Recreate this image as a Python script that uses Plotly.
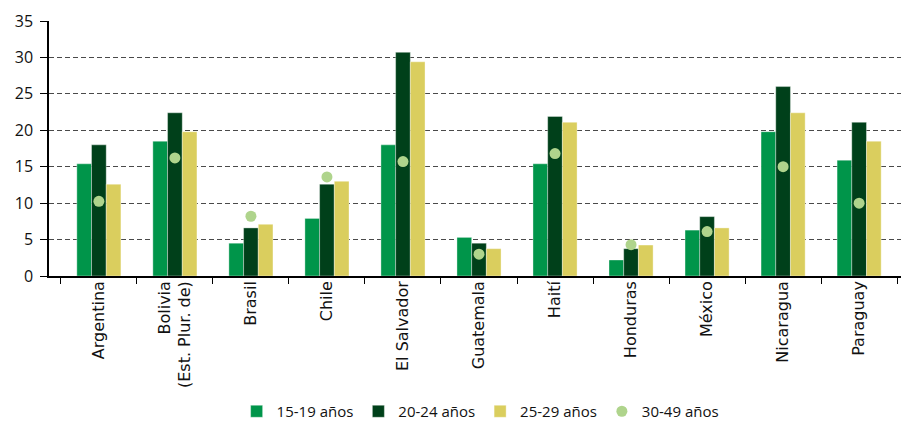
import plotly.graph_objects as go

categories = ["Argentina", "Bolivia<br>(Est. Plur. de)", "Brasil", "Chile", "El Salvador",
              "Guatemala", "Haití", "Honduras", "México", "Nicaragua", "Paraguay"]
s15_19 = [15.4, 18.5, 4.5, 7.9, 18.0, 5.3, 15.4, 2.2, 6.3, 19.8, 15.9]
s20_24 = [18.0, 22.4, 6.6, 12.6, 30.7, 4.5, 21.9, 3.75, 8.15, 26.0, 21.1]
s25_29 = [12.6, 19.8, 7.1, 13.0, 29.4, 3.75, 21.1, 4.25, 6.6, 22.4, 18.5]
s30_49 = [10.25, 16.2, 8.2, 13.6, 15.7, 3.0, 16.8, 4.3, 6.1, 15.0, 10.0]
series_names = ["15-19 años", "20-24 años", "25-29 años", "30-49 años"]
y_ticks = [0, 5, 10, 15, 20, 25, 30, 35]

c_green = "#00954A"
c_dark = "#00401A"
c_yellow = "#DACE5E"
c_dot = "#AFD48C"

fig = go.Figure()
for name, vals, col in [(series_names[0], s15_19, c_green),
                        (series_names[1], s20_24, c_dark),
                        (series_names[2], s25_29, c_yellow)]:
    fig.add_trace(go.Bar(x=categories, y=vals, name=name, marker_color=col,
                         marker_line=dict(color="rgba(255,255,255,0.6)", width=0.6)))
fig.add_trace(go.Scatter(x=categories, y=s30_49, name=series_names[3], mode="markers",
                         marker=dict(color=c_dot, size=11, symbol="circle")))

# page body has an 8px margin, so the figure is sized to fit the 909x421 window
fig.update_layout(
    width=901, height=413,
    margin=dict(l=41, r=0, t=13, b=145, autoexpand=False),
    plot_bgcolor="white", paper_bgcolor="white",
    barmode="group", bargap=0.42, bargroupgap=0,
    font=dict(family="Open Sans, Liberation Sans, sans-serif", color="#111111"),
    showlegend=True,
    legend=dict(orientation="h", xref="container", yref="container",
                x=0.524, xanchor="center", y=0.023, yanchor="middle",
                font=dict(size=15, family="Open Sans, sans-serif"),
                itemwidth=30, tracegroupgap=0, traceorder="normal"),
)
fig.update_xaxes(type="category", showline=True, linecolor="black", linewidth=1.5,
                 ticks="outside", tickson="boundaries", ticklen=6, tickcolor="black",
                 tickangle=-90, tickfont=dict(size=16, family="DejaVu Sans"), showgrid=False,
                 ticklabelstandoff=-3, automargin=False)
fig.update_yaxes(range=[0, 35], tickvals=y_ticks, showline=True, linecolor="black", linewidth=1.5,
                 ticks="outside", ticklen=7, tickcolor="black", tickfont=dict(size=16),
                 ticklabelstandoff=4,
                 showgrid=True, gridcolor="#4a4a4a", griddash="5px,3px", gridwidth=1,
                 zeroline=False, automargin=False)

fig.write_html("out.html")
